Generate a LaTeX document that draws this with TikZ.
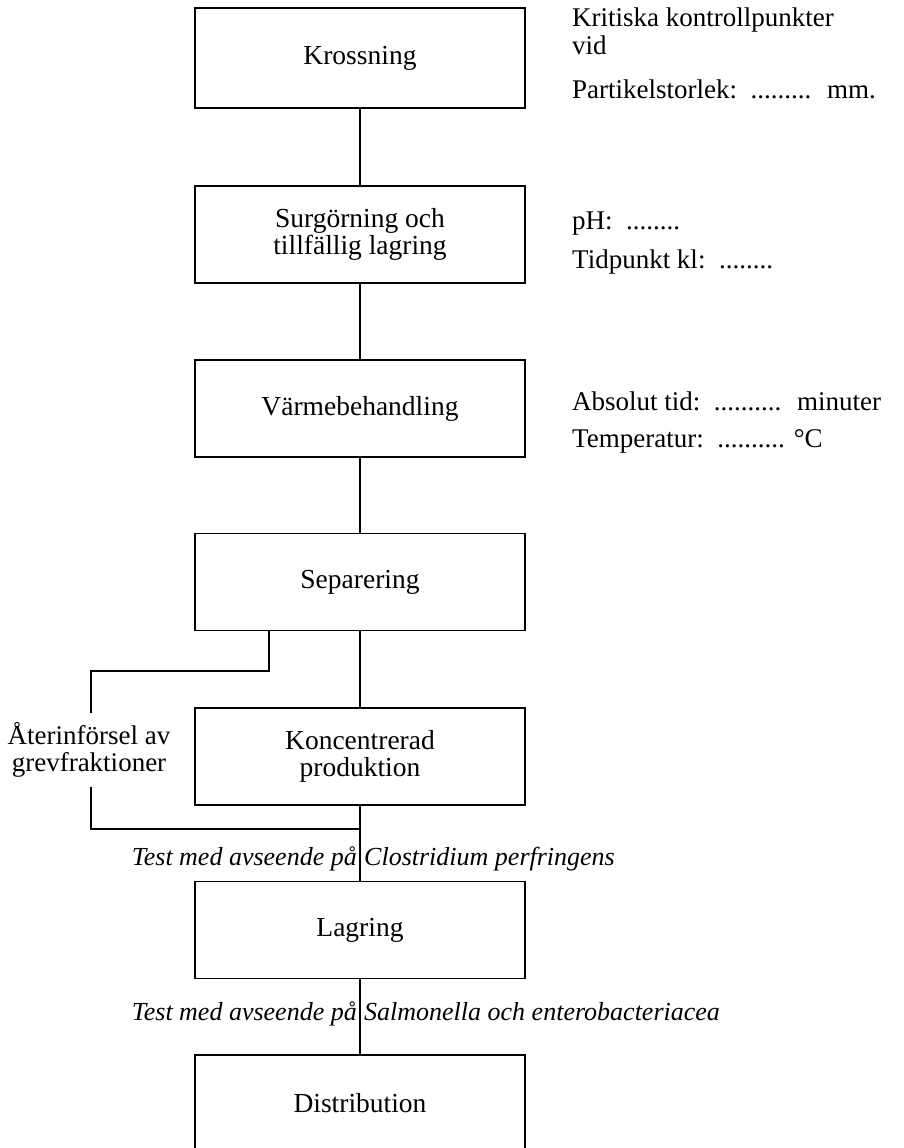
\documentclass[tikz,border=0pt]{standalone}
\usepackage{fontspec}
\setmainfont{Liberation Serif}
\newcommand{\bodyfont}{\fontsize{27.5}{27}\selectfont}
\newcommand{\notefont}{\fontsize{27}{27}\selectfont}
\newcommand{\testfont}{\fontsize{26}{27}\selectfont\itshape}
\begin{document}
\begin{tikzpicture}[x=1pt,y=-1pt,
  box/.style={draw, line width=1.6pt, minimum width=330pt, minimum height=97pt, align=center, font=\bodyfont, inner sep=0pt},
  conn/.style={line width=1.4pt},
  lbl/.style={font=\notefont, inner sep=0pt, anchor=base west},
  testtxt/.style={font=\testfont, inner sep=0pt}]
\useasboundingbox (0,0) rectangle (903,1148);
% boxes
\node[box, minimum height=100pt] (b1) at (360,58) {Krossning};
\node[box] (b2) at (360,234.5) {Surgörning och\\tillfällig lagring};
\node[box] (b3) at (360,408.5) {Värmebehandling};
\node[box] (b4) at (360,582) {Separering};
\node[box] (b5) at (360,756.5) {Koncentrerad\\produktion};
\node[box] (b6) at (360,930) {Lagring};
\node[box] (b7) at (360,1103.5) {Distribution};
% side label
\node[font=\notefont, align=center, inner xsep=0pt, inner ysep=9pt] (ret) at (89,750) {Återinförsel av\\grevfraktioner};
\coordinate (sx) at (269,671);
\coordinate (sl) at (91,671);
\coordinate (jn) at (360,829);
% main connectors
\draw[conn] (b1.south) -- (b2.north);
\draw[conn] (b2.south) -- (b3.north);
\draw[conn] (b3.south) -- (b4.north);
\draw[conn] (b4.south) -- (b5.north);
\draw[conn] (b5.south) -- (b6.north);
\draw[conn] (b6.south) -- (b7.north);
% side branch
\draw[conn] (b4.south -| sx) -- (sx) -- (sl) -- (ret.north -| sl);
\draw[conn] (ret.south -| sl) |- (jn);
% test texts
\node[testtxt, anchor=base east] (t1a) at (357,865) {Test med avseende på};
\node[testtxt, anchor=base west] (t1b) at (364,865) {Clostridium perfringens};
\node[testtxt, anchor=base east] (t2a) at (357,1020) {Test med avseende på};
\node[testtxt, anchor=base west] (t2b) at (364,1020) {Salmonella och enterobacteriacea};
% right-hand notes
\node[lbl] (k1) at (572,27) {Kritiska kontrollpunkter};
\node[lbl] (k2) at (572,55) {vid};
\node[lbl] (k3) at (572,98) {Partikelstorlek:\ \ ......... \ mm.};
\node[lbl] (k4) at (572,229) {pH:\ \ ........};
\node[lbl] (k5) at (572,268) {Tidpunkt kl:\ \ ........};
\node[lbl] (k6) at (572,410) {Absolut tid:\ \ .......... \ minuter};
\node[lbl] (k7) at (572,447) {Temperatur:\ \ .......... °C};
\end{tikzpicture}
\end{document}
